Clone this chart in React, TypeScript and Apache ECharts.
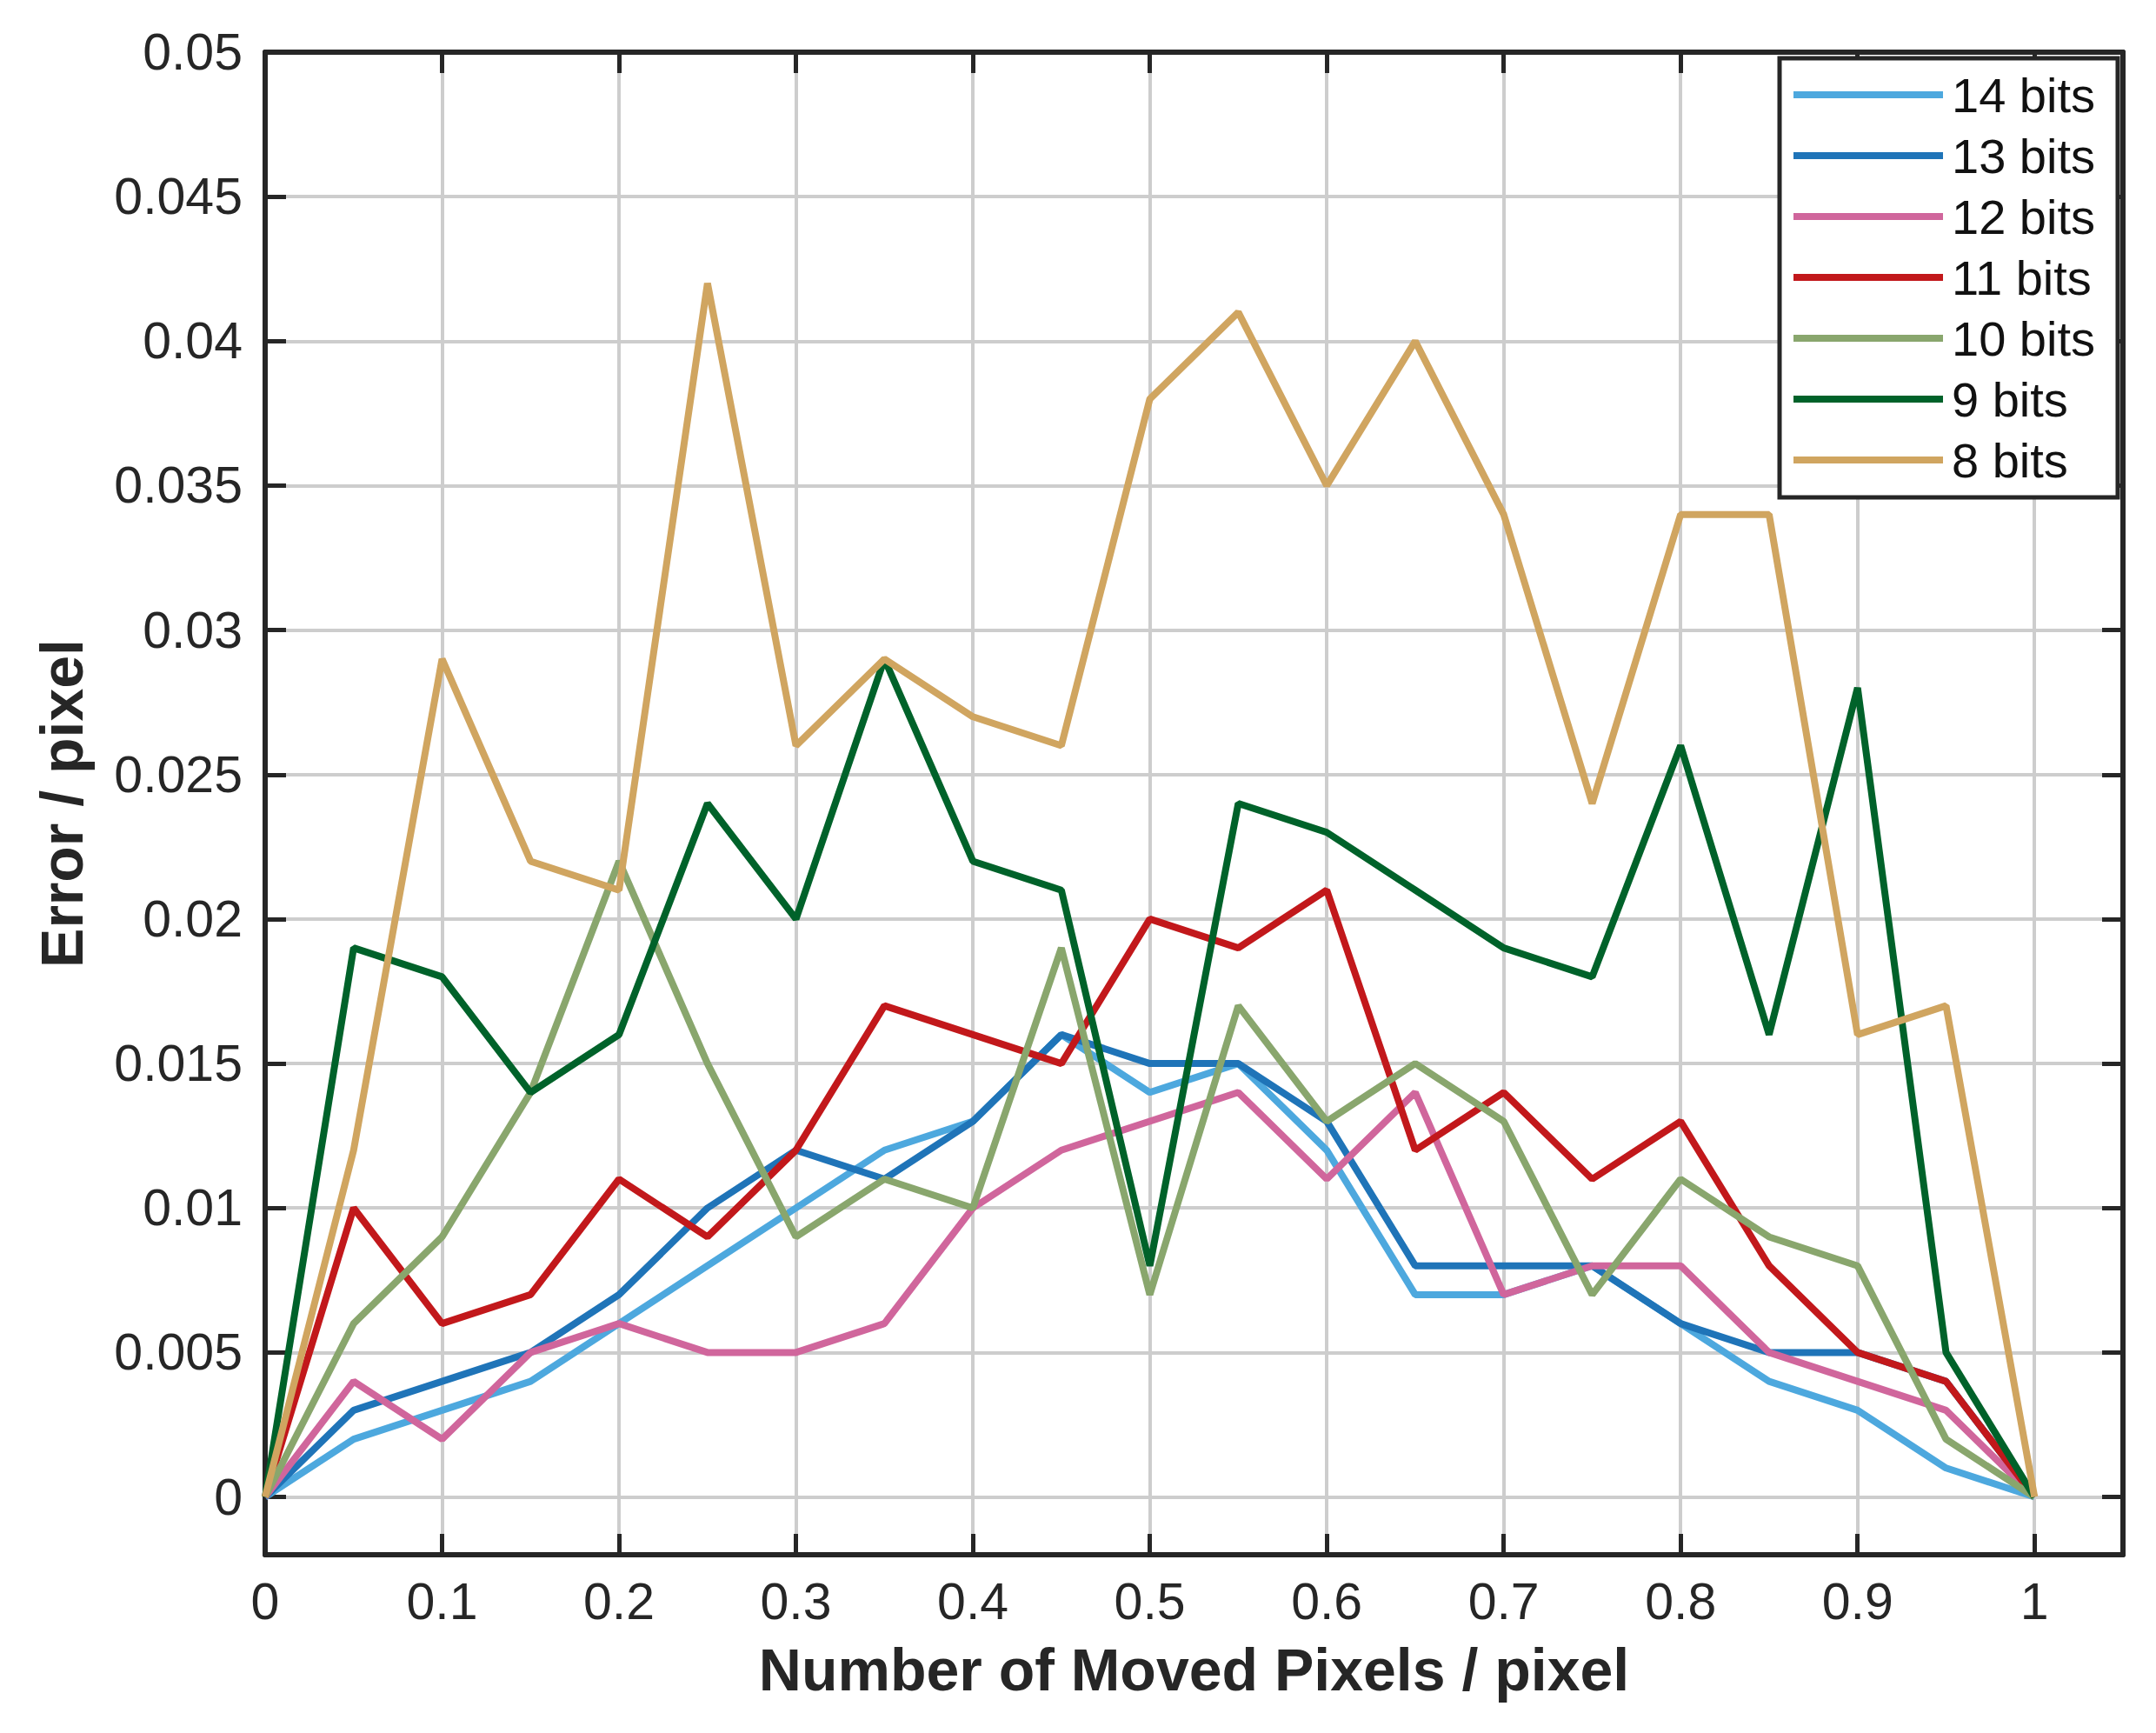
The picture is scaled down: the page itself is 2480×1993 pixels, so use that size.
import React, { useEffect, useRef } from "react";
import * as echarts from "echarts";

const xValues = [0, 0.05, 0.1, 0.15, 0.2, 0.25, 0.3, 0.35, 0.4, 0.45, 0.5, 0.55, 0.6, 0.65, 0.7, 0.75, 0.8, 0.85, 0.9, 0.95, 1];

const seriesNames = ["14 bits", "13 bits", "12 bits", "11 bits", "10 bits", "9 bits", "8 bits"];

const bits14 = [0, 0.002, 0.003, 0.004, 0.006, 0.008, 0.010, 0.012, 0.013, 0.016, 0.014, 0.015, 0.012, 0.007, 0.007, 0.008, 0.006, 0.004, 0.003, 0.001, 0];
const bits13 = [0, 0.003, 0.004, 0.005, 0.007, 0.010, 0.012, 0.011, 0.013, 0.016, 0.015, 0.015, 0.013, 0.008, 0.008, 0.008, 0.006, 0.005, 0.005, 0.004, 0];
const bits12 = [0, 0.004, 0.002, 0.005, 0.006, 0.005, 0.005, 0.006, 0.010, 0.012, 0.013, 0.014, 0.011, 0.014, 0.007, 0.008, 0.008, 0.005, 0.004, 0.003, 0];
const bits11 = [0, 0.010, 0.006, 0.007, 0.011, 0.009, 0.012, 0.017, 0.016, 0.015, 0.020, 0.019, 0.021, 0.012, 0.014, 0.011, 0.013, 0.008, 0.005, 0.004, 0];
const bits10 = [0, 0.006, 0.009, 0.014, 0.022, 0.015, 0.009, 0.011, 0.010, 0.019, 0.007, 0.017, 0.013, 0.015, 0.013, 0.007, 0.011, 0.009, 0.008, 0.002, 0];
const bits9 = [0, 0.019, 0.018, 0.014, 0.016, 0.024, 0.020, 0.029, 0.022, 0.021, 0.008, 0.024, 0.023, 0.021, 0.019, 0.018, 0.026, 0.016, 0.028, 0.005, 0];
const bits8 = [0, 0.012, 0.029, 0.022, 0.021, 0.042, 0.026, 0.029, 0.027, 0.026, 0.038, 0.041, 0.035, 0.040, 0.034, 0.024, 0.034, 0.034, 0.016, 0.017, 0];

const seriesValues = [bits14, bits13, bits12, bits11, bits10, bits9, bits8];
const seriesColors = ["#4DA8DE", "#1F74B8", "#D0669C", "#C2181B", "#89A66D", "#00622A", "#D0A560"];

const FONT = "'Liberation Sans', Arial, Helvetica, sans-serif";
const TEXT = "#262626";

export default function App() {
  const ref = useRef<HTMLDivElement>(null);

  useEffect(() => {
    if (!ref.current) return;
    const chart = echarts.init(ref.current, undefined, { renderer: "svg" });

    const axisLineStyle = { color: TEXT, width: 6 };
    const tickStyle = { show: true, inside: true, length: 24, lineStyle: { color: TEXT, width: 5 } };
    const gridLine = { show: true, lineStyle: { color: "#cdcdcd", width: 4 } };

    const option: any = {
      animation: false,
      backgroundColor: "#ffffff",
      textStyle: { fontFamily: FONT },
      grid: {
        left: 305,
        top: 60,
        right: 38,
        bottom: 205,
        containLabel: false,
        outerBoundsMode: "none",
      },
      legend: {
        show: true,
        orient: "vertical",
        left: 2047,
        top: 67,
        padding: [12, 26, 13, 16],
        itemGap: 10,
        itemWidth: 172,
        itemHeight: 8,
        icon: "rect",
        backgroundColor: "#ffffff",
        borderColor: TEXT,
        borderWidth: 5,
        borderRadius: 0,
        data: seriesNames,
        textStyle: {
          fontFamily: FONT,
          fontSize: 56,
          color: "#111111",
          lineHeight: 60,
          padding: [0, 0, 0, 5],
        },
      },
      xAxis: [
        {
          type: "value",
          position: "bottom",
          min: 0,
          max: 1.05,
          interval: 0.1,
          axisLine: { show: true, onZero: false, lineStyle: axisLineStyle },
          axisTick: tickStyle,
          splitLine: gridLine,
          axisLabel: {
            show: true,
            fontFamily: FONT,
            fontSize: 59,
            color: TEXT,
            margin: 24,
            formatter: (v: number) => (v > 1.001 ? "" : String(Number(v.toFixed(3)))),
          },
          name: "Number of Moved Pixels / pixel",
          nameLocation: "middle",
          nameGap: 98,
          nameTextStyle: { fontFamily: FONT, fontSize: 68, fontWeight: "bold", color: TEXT },
        },
        {
          type: "value",
          position: "top",
          min: 0,
          max: 1.05,
          interval: 0.1,
          axisLine: { show: true, onZero: false, lineStyle: axisLineStyle },
          axisTick: tickStyle,
          splitLine: { show: false },
          axisLabel: { show: false },
        },
      ],
      yAxis: [
        {
          type: "value",
          position: "left",
          min: -0.002,
          max: 0.05,
          splitNumber: 10,
          minInterval: 0.005,
          maxInterval: 0.005,
          axisLine: { show: true, onZero: false, lineStyle: axisLineStyle },
          axisTick: tickStyle,
          splitLine: gridLine,
          axisLabel: {
            show: true,
            fontFamily: FONT,
            fontSize: 59,
            color: TEXT,
            margin: 26,
            formatter: (v: number) => (v < -0.0001 ? "" : String(Number(v.toFixed(4)))),
          },
          name: "Error / pixel",
          nameLocation: "middle",
          nameGap: 200,
          nameTextStyle: { fontFamily: FONT, fontSize: 68, fontWeight: "bold", color: TEXT },
        },
        {
          type: "value",
          position: "right",
          min: -0.002,
          max: 0.05,
          splitNumber: 10,
          minInterval: 0.005,
          maxInterval: 0.005,
          axisLine: { show: true, onZero: false, lineStyle: axisLineStyle },
          axisTick: tickStyle,
          splitLine: { show: false },
          axisLabel: { show: false },
        },
      ],
      series: seriesNames.map((name, i) => ({
        name,
        type: "line",
        xAxisIndex: 0,
        yAxisIndex: 0,
        data: xValues.map((x, j) => [x, seriesValues[i][j]]),
        showSymbol: false,
        symbol: "none",
        clip: true,
        color: seriesColors[i],
        lineStyle: { color: seriesColors[i], width: 8 },
        emphasis: { disabled: true },
        z: 2 + i,
      })),
    };

    chart.setOption(option);
    return () => {
      chart.dispose();
    };
  }, []);

  return (
    <div
      ref={ref}
      style={{ position: "absolute", left: 0, top: 0, width: 2480, height: 1993, background: "#fff" }}
    />
  );
}
